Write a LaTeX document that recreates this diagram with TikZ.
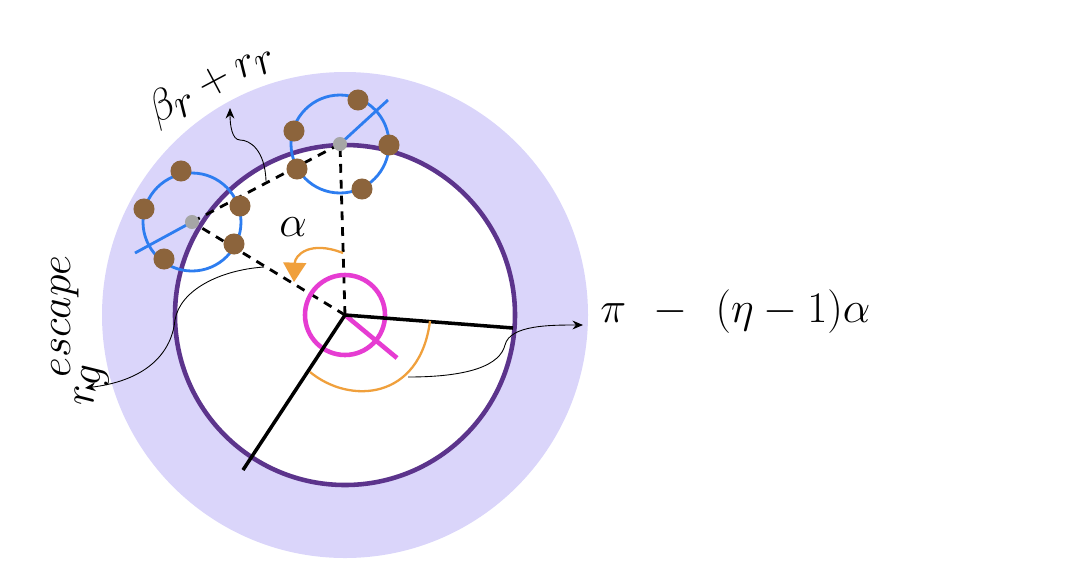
\documentclass[tikz,border=0pt]{standalone}
\usetikzlibrary{arrows.meta}
\definecolor{lav}{RGB}{218,213,250}
\definecolor{ring}{RGB}{92,52,140}
\definecolor{bl}{RGB}{45,125,240}
\definecolor{br}{RGB}{140,100,60}
\definecolor{mg}{RGB}{230,60,210}
\definecolor{org}{RGB}{240,160,60}
\tikzset{
  dot/.style={circle,fill=br,inner sep=0pt,minimum size=12pt},
  gdot/.style={circle,fill=gray!70,inner sep=0pt,minimum size=8pt},
  dsh/.style={dashed,line width=1.6pt,dash pattern=on 5pt off 4pt},
  thin conn/.style={line width=0.5pt,-{Stealth[length=6pt,width=5pt]}},
  big/.style={font=\fontsize{34}{40}\selectfont,inner sep=0pt}
}
\begin{document}
\begin{tikzpicture}[x=0.02cm,y=-0.02cm]
\useasboundingbox (0,0) rectangle (1065,562);
\coordinate (C) at (345,315);
\fill[lav] (C) circle[radius=243];
\fill[white] (C) circle[radius=170];
\draw[ring,line width=2.6pt] (C) circle[radius=170];
% small circles
\coordinate (L) at (192,222);
\coordinate (R) at (340,144);
\draw[bl,line width=1.6pt] (L) circle[radius=49];
\draw[bl,line width=1.6pt] (R) circle[radius=49];
\draw[bl,line width=1.6pt] (L) -- (135,253);
\draw[bl,line width=1.6pt] (R) -- (388,100);
% dashed
\draw[dsh] (C) -- (L);
\draw[dsh] (C) -- (R);
\draw[dsh] (L) -- (R);
\node[gdot] (gl) at (L) {};
\node[gdot] (gr) at (R) {};
\foreach \p in {(181,171),(144,209),(240,206),(234,244),(164,259),(358,100),(294,131),(389,145),(297,169),(362,189)}
  \node[dot] at \p {};
% magenta
\draw[mg,line width=2.6pt] (C) circle[radius=40] (C) -- (397,358);
% black lines
\coordinate (E1) at (513,328);
\coordinate (E2) at (243,470);
\draw[line width=2pt] (C) -- (E1) (C) -- (E2);
% orange arcs
\draw[org,line width=1.3pt] (430,321) .. controls (420,400) and (350,405) .. (310,372);
\draw[org,line width=1.3pt,-{Triangle[length=11pt,width=13pt]}] (343,253) .. controls (310,240) and (295,255) .. (294,282);
% labels
\node[big] (alpha) at (293,227) {$\alpha$};
\node[big,anchor=west] (pi) at (600,312) {$\pi\ -\ (\eta-1)\alpha$};
\node[big,rotate=28] (beta) at (212,83) {$\beta_r+r_r$};
\node[big,rotate=90] (rg) at (80,330) {$r_g^{\,escape}$};
% connectors
\coordinate (a1) at (408,377);
\draw[thin conn] (a1) .. controls (470,377) and (500,365) .. (505,345) .. controls (510,325) and (550,325) .. (583,325);
\coordinate (a2) at (266,181);
\draw[thin conn] (a2) .. controls (265,150) and (250,140) .. (240,140) .. controls (232,140) and (230,125) .. (230,108);
\coordinate (a3) at (264,267);
\draw[thin conn] (a3) .. controls (220,270) and (180,290) .. (175,320) .. controls (172,350) and (150,380) .. (85,388);
\end{tikzpicture}
\end{document}
